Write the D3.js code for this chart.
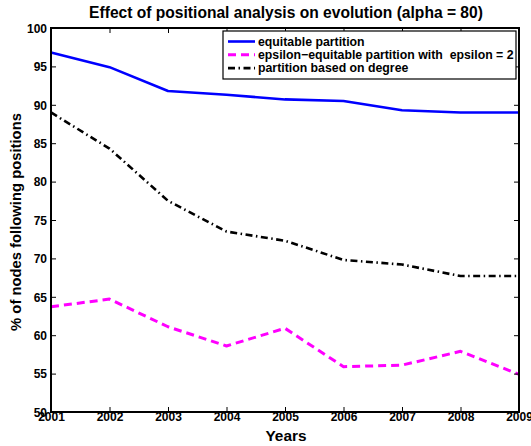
<!DOCTYPE html>
<html><head><meta charset="utf-8">
<script src="https://cdn.jsdelivr.net/npm/d3@7"></script>
<style>body{margin:0;background:#fff}svg{display:block}text{font-family:"Liberation Sans",Arial,sans-serif;font-weight:bold;white-space:pre}</style>
</head><body><svg id="c" width="531" height="446"></svg>
<script>
const years = [2001,2002,2003,2004,2005,2006,2007,2008,2009];
const equitable = [96.8,94.9,91.8,91.3,90.7,90.5,89.3,89.0,89.0];
const epsilonEq = [63.7,64.7,61.1,58.6,60.9,55.9,56.1,57.9,54.9];
const degree = [89.0,84.3,77.5,73.5,72.3,69.8,69.2,67.7,67.7];
const yTicks = [50,55,60,65,70,75,80,85,90,95,100];
const seriesNames = ["equitable partition","epsilon\u2212equitable partition with  epsilon = 2","partition based on degree"];

const svg = d3.select("#c");
const L=51,R=519,T=28,B=412;
const x = d3.scaleLinear().domain([2001,2009]).range([L,R]);
const y = d3.scaleLinear().domain([50,100]).range([B,T]);

const series = [
  {v:equitable,c:"#0000ff",w:2.6,d:null},
  {v:epsilonEq,c:"#ff00ff",w:3,d:"8,5"},
  {v:degree,c:"#000",w:2.6,d:"7,3.5,1.5,3.5"}
];
const line = d3.line().x((d,i)=>x(years[i])).y(d=>y(d));
series.forEach(s=>{
  svg.append("path").attr("d",line(s.v)).attr("fill","none")
    .attr("stroke",s.c).attr("stroke-width",s.w)
    .attr("stroke-dasharray",s.d).attr("stroke-linejoin","round");
});

// axes
const ax = svg.append("g").attr("transform",`translate(0,${B})`)
  .call(d3.axisBottom(x).tickValues(years).tickFormat(d3.format("d")).tickSizeInner(-5).tickSizeOuter(0).tickPadding(2));
const ay = svg.append("g").attr("transform",`translate(${L},0)`)
  .call(d3.axisLeft(y).tickValues(yTicks).tickSizeInner(-5).tickSizeOuter(0).tickPadding(4));
const axT = svg.append("g").attr("transform",`translate(0,${T})`)
  .call(d3.axisTop(x).tickValues(years).tickFormat("").tickSizeInner(-5).tickSizeOuter(0));
const ayR = svg.append("g").attr("transform",`translate(${R},0)`)
  .call(d3.axisRight(y).tickValues(yTicks).tickFormat("").tickSizeInner(-5).tickSizeOuter(0));
[ax,ay,axT,ayR].forEach(g=>{
  g.select(".domain").remove();
  g.selectAll(".tick line").attr("stroke","#000").attr("stroke-width",1);
  g.selectAll("text").attr("font-size",12).attr("font-family","Liberation Sans, Arial, sans-serif").attr("font-weight","bold").attr("fill","#000");
});
ax.selectAll("text").attr("dy","0.6em");
ay.selectAll("text").attr("dy","0.35em");
svg.append("rect").attr("x",L).attr("y",T).attr("width",R-L).attr("height",B-T)
  .attr("fill","none").attr("stroke","#000").attr("stroke-width",2);

// titles
svg.append("text").attr("x",286).attr("y",18).attr("text-anchor","middle").attr("font-size",15.6).text("Effect of positional analysis on evolution (alpha = 80)");
svg.append("text").attr("x",286).attr("y",441).attr("text-anchor","middle").attr("font-size",15.4).text("Years");
svg.append("text").attr("transform","translate(21,222) rotate(-90)").attr("text-anchor","middle").attr("font-size",14.8).text("% of nodes following positions");

// legend
const lg = svg.append("g");
lg.append("rect").attr("x",223).attr("y",31).attr("width",293).attr("height",48)
  .attr("fill","#fff").attr("stroke","#000").attr("stroke-width",1.2);
series.forEach((s,i)=>{
  const yy = 41.5 + i*13.3;
  lg.append("line").attr("x1",228).attr("x2",255).attr("y1",yy).attr("y2",yy)
    .attr("stroke",s.c).attr("stroke-width",s.w).attr("stroke-dasharray",s.d);
  lg.append("text").attr("x",258).attr("y",yy).attr("dy","0.35em").attr("font-size",12.3).text(seriesNames[i]);
});
</script></body></html>
